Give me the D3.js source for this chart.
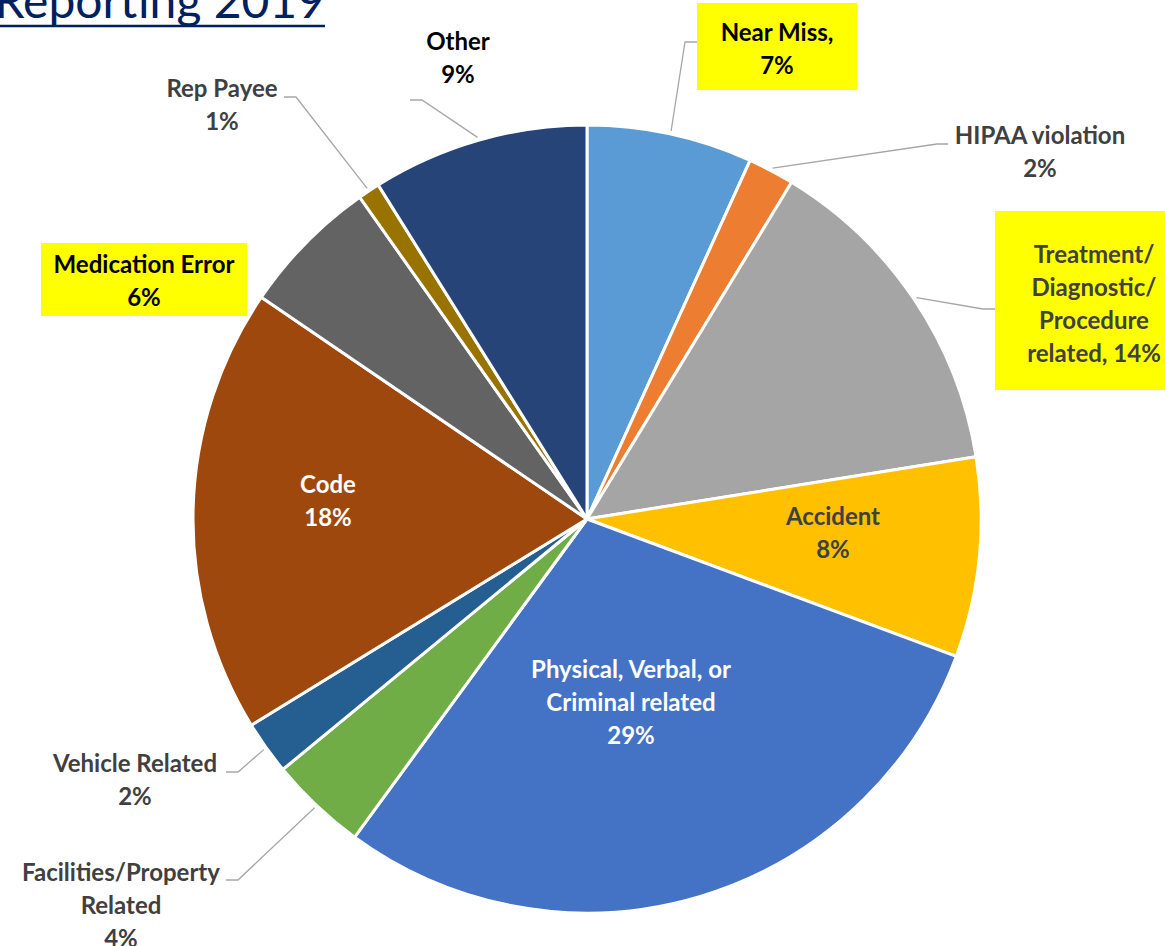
<!DOCTYPE html>
<html>
<head>
<meta charset="utf-8">
<script src="https://cdn.jsdelivr.net/npm/d3@7"></script>
<style>
  html, body { margin: 0; padding: 0; background: #ffffff; overflow: hidden; }
  svg { display: block; }
</style>
</head>
<body>
<svg id="chart" width="1165" height="946"></svg>
<script>
// ---- data ----
const categories = ["Near Miss", "HIPAA violation", "Treatment/Diagnostic/Procedure related", "Accident",
  "Physical, Verbal, or Criminal related", "Facilities/Property Related", "Vehicle Related", "Code",
  "Medication Error", "Rep Payee", "Other"];
const values = [6.8, 1.9, 13.8, 8.2, 29.4, 4.0, 2.2, 18.3, 5.7, 0.9, 8.9];
const percentLabels = ["7%", "2%", "14%", "8%", "29%", "4%", "2%", "18%", "6%", "1%", "9%"];
const labelLines = [
  ["Near Miss,", "7%"],
  ["HIPAA violation", "2%"],
  ["Treatment/", "Diagnostic/", "Procedure", "related, 14%"],
  ["Accident", "8%"],
  ["Physical, Verbal, or", "Criminal related", "29%"],
  ["Facilities/Property", "Related", "4%"],
  ["Vehicle Related", "2%"],
  ["Code", "18%"],
  ["Medication Error", "6%"],
  ["Rep Payee", "1%"],
  ["Other", "9%"]
];
const colors = ["#5B9BD5", "#ED7D31", "#A5A5A5", "#FFC000", "#4472C4", "#70AD47",
  "#255E91", "#9E480E", "#636363", "#997300", "#264478"];
const titleText = "Reporting 2019";

// ---- layout ----
const cx = 587, cy = 519, R = 394;
const fontFamily = "Lato, 'Open Sans', sans-serif";
const fontSize = 24, lineH = 33;
// label layout: center x, first-line center y, text colour, highlight box, leader elbow
const labelLayout = [
  { x: 777, y: 33, fill: "#000", box: [697, 3, 160, 87], elbow: [685, 42], end: [697, 42] },
  { x: 1040, y: 136, fill: "#404040", elbow: [937, 144], end: [948, 144] },
  { x: 1094, y: 255, fill: "#404040", box: [995, 211, 170, 179], elbow: [983, 309], end: [995, 309] },
  { x: 833, y: 517, fill: "#404040" },
  { x: 631, y: 670, fill: "#ffffff" },
  { x: 121, y: 873, fill: "#404040", elbow: [238, 880], end: [226, 880] },
  { x: 135, y: 764, fill: "#404040", elbow: [238, 772], end: [226, 772] },
  { x: 328, y: 485, fill: "#ffffff" },
  { x: 144, y: 265, fill: "#000", box: [41, 243, 206, 73] },
  { x: 222, y: 89, fill: "#404040", elbow: [296, 97], end: [284, 97] },
  { x: 458, y: 42, fill: "#000", elbow: [422, 100], end: [410, 100] }
];

const svg = d3.select("#chart");

// title
svg.append("text")
  .attr("x", 325).attr("y", 18)
  .attr("text-anchor", "end")
  .attr("font-family", fontFamily)
  .attr("font-size", 48)
  .attr("fill", "#002060")
  .text(titleText);
svg.append("line")
  .attr("x1", 0).attr("x2", 325).attr("y1", 26).attr("y2", 26)
  .attr("stroke", "#002060").attr("stroke-width", 2.5);

const data = categories.map((c, i) => ({ name: c, value: values[i], i }));
const pie = d3.pie().value(d => d.value).sort(null).startAngle(0).endAngle(2 * Math.PI);
const arcs = pie(data);
const arc = d3.arc().innerRadius(0).outerRadius(R);

const g = svg.append("g").attr("transform", `translate(${cx},${cy})`);
g.selectAll("path.slice")
  .data(arcs)
  .join("path")
  .attr("class", "slice")
  .attr("d", arc)
  .attr("fill", d => colors[d.data.i])
  .attr("stroke", "#ffffff")
  .attr("stroke-width", 3)
  .attr("stroke-linejoin", "round");

// leader lines
arcs.forEach(a => {
  const L = labelLayout[a.data.i];
  if (!L.elbow) return;
  const mid = (a.startAngle + a.endAngle) / 2;
  const sx = cx + Math.sin(mid) * (R + 3);
  const sy = cy - Math.cos(mid) * (R + 3);
  svg.append("polyline")
    .attr("points", `${sx},${sy} ${L.elbow[0]},${L.elbow[1]} ${L.end[0]},${L.end[1]}`)
    .attr("fill", "none")
    .attr("stroke", "#A6A6A6")
    .attr("stroke-width", 1.3);
});

// label boxes and texts
labelLayout.forEach((L, i) => {
  if (L.box) {
    svg.append("rect")
      .attr("x", L.box[0]).attr("y", L.box[1])
      .attr("width", L.box[2]).attr("height", L.box[3])
      .attr("fill", "#FFFF00");
  }
  const t = svg.append("text")
    .attr("text-anchor", "middle")
    .attr("font-family", fontFamily)
    .attr("font-weight", "bold")
    .attr("font-size", fontSize)
    .attr("fill", L.fill);
  labelLines[i].forEach((line, k) => {
    t.append("tspan")
      .attr("x", L.x)
      .attr("y", L.y + k * lineH)
      .attr("dy", "0.35em")
      .text(line);
  });
});
</script>
</body>
</html>
